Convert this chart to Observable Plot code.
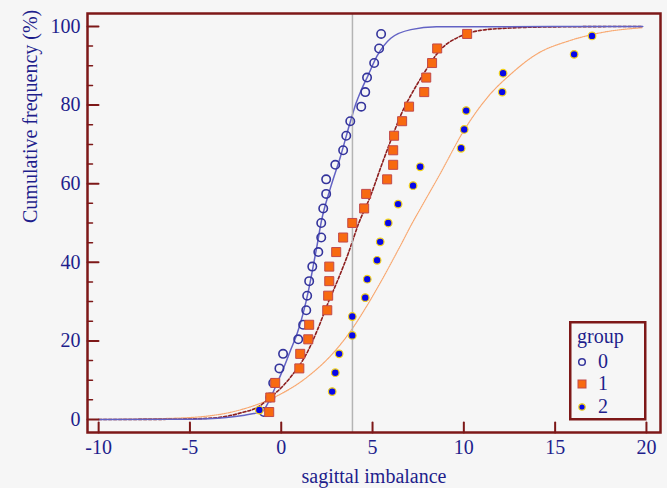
<!DOCTYPE html>
<html><head><meta charset="utf-8">
<script src="https://cdn.jsdelivr.net/npm/d3@7"></script>
<script src="https://cdn.jsdelivr.net/npm/@observablehq/plot@0.6"></script>
<style>
html,body{margin:0;padding:0;background:#f6f6f6;}
#wrap{position:relative;width:667px;height:488px;overflow:hidden;}
#legend{position:absolute;left:569px;top:321px;}
</style></head><body>
<div id="wrap"></div>
<script>
// ---- tick values & labels ----
const xTicks = [-10, -5, 0, 5, 10, 15, 20];
const yTicks = [0, 20, 40, 60, 80, 100];
const yMinorTicks = [5, 10, 15, 25, 30, 35, 45, 50, 55, 65, 70, 75, 85, 90, 95];
const xLabel = "sagittal imbalance";
const yLabel = "Cumulative frequency (%)";
const legendTitle = "group";
const groups = ["0", "1", "2"];
const refLineX = [3.9];

// ---- observed points (x = sagittal imbalance, y = cumulative %) ----
const freq27 = [1.9, 5.6, 9.3, 13.0, 16.7, 20.4, 24.1, 27.8, 31.5, 35.2, 38.9, 42.6, 46.3, 50.0,
  53.7, 57.4, 61.1, 64.8, 68.5, 72.2, 75.9, 79.6, 83.3, 87.0, 90.7, 94.4, 98.1];
const freq21 = [2.4, 7.1, 11.9, 16.7, 21.4, 26.2, 31.0, 35.7, 40.5, 45.2, 50.0, 54.8, 59.5, 64.3,
  69.0, 73.8, 78.6, 83.3, 88.1, 92.9, 97.6];
const group0X = [-0.95, -0.6, -0.44, -0.1, 0.1, 0.93, 1.2, 1.37, 1.42, 1.53, 1.7, 2.03, 2.19, 2.19,
  2.3, 2.46, 2.46, 2.96, 3.39, 3.56, 3.78, 4.38, 4.6, 4.7, 5.09, 5.36, 5.47];
const group1X = [-0.66, -0.6, -0.33, 0.99, 1.04, 1.48, 1.53, 2.52, 2.57, 2.63, 2.63, 3.01, 3.39, 3.89,
  4.54, 4.65, 5.8, 6.13, 6.13, 6.18, 6.62, 7.0, 7.83, 7.94, 8.26, 8.54, 10.18];
const group2X = [-1.2, 2.79, 2.96, 3.17, 3.89, 3.89, 4.6, 4.71, 5.25, 5.42, 5.86, 6.4, 7.22, 7.61,
  9.85, 10.02, 10.13, 12.1, 12.15, 16.04, 17.02];

// ---- fitted curves ----
const curve0X = [-10, -6, -4, -3, -2, -1.5, -1.0, -0.75, -0.25, 0.12, 0.5, 0.88, 1.2, 1.5, 1.75, 1.95,
  2.2, 2.7, 3.25, 3.8, 4.1, 4.4, 4.75, 5.25, 6.0, 7.1, 8.5, 19.8];
const curve0Y = [0, 0.05, 0.2, 0.5, 1.1, 1.5, 2.2, 4, 9, 13, 17.5, 22, 27, 33, 39, 44,
  50.5, 59, 67, 76, 80.5, 84, 87.5, 92.5, 97, 99.2, 99.9, 100];
const curve1X = [-10, -6, -4, -3, -2.2, -1.3, -0.6, 0.13, 0.5, 1.45, 2.0, 2.55, 3.1, 3.65, 4.25, 4.9,
  5.4, 6.0, 6.7, 7.1, 7.8, 8.7, 9.8, 10.9, 12.5, 15, 19.8];
const curve1Y = [0, 0.05, 0.3, 0.8, 1.7, 3.1, 5.6, 8.7, 10.7, 17.3, 23, 29.5, 35.5, 42, 50, 57,
  63.5, 71, 79, 82.5, 88, 94, 97.5, 99, 99.6, 99.9, 100];
const curve2X = [-10, -6, -4, -3, -2.2, -0.4, 1.45, 2.9, 3.8, 4.7, 5.45, 6.5, 7.2, 7.6, 8.7, 10.0,
  11.3, 12.6, 14.0, 15.8, 17.6, 19.8];
const curve2Y = [0.02, 0.3, 0.9, 1.6, 2.5, 5.6, 10.9, 17.2, 22.5, 29, 35, 44, 50.2, 53.5, 62.5, 73.5,
  82, 88, 93, 96.4, 98.5, 99.7];

// ---- styling ----
const font = "Liberation Serif, Times New Roman, serif";
const textColor = "#1e1e8c";
const frameColor = "#7d1818";
const bg = "#f6f6f6";
const c0 = "#34349c", line0 = "#6262c4";
const c1fill = "#f86a10", c1stroke = "#c24a4a", line1 = "#8c1e1e";
const c2fill = "#0808e8", c2stroke = "#f2d21a", line2 = "#f8a870";

const pts = (xs, ys) => xs.map((x, i) => ({x, y: ys[i]}));
const g0 = pts(group0X, freq27);
const g1 = pts(group1X, freq27);
const g2 = pts(group2X, freq21);
const k0 = pts(curve0X, curve0Y);
const k1 = pts(curve1X, curve1Y);
const k2 = pts(curve2X, curve2Y);

const tickShape = {draw(context, l) { context.moveTo(0, 0); context.lineTo(0, -l); }};

const chart = Plot.plot({
  width: 667,
  height: 488,
  marginLeft: 87,
  marginRight: 7,
  marginTop: 13,
  marginBottom: 56,
  style: {background: bg, fontFamily: font},
  x: {domain: [-10.61, 20.77], axis: null},
  y: {domain: [-3.31, 103.3], axis: null},
  marks: [
    Plot.line(k2, {x: "x", y: "y", stroke: line2, strokeWidth: 1.2, strokeDasharray: "1,1", curve: "monotone-x"}),
    Plot.line(k1, {x: "x", y: "y", stroke: line1, strokeWidth: 1.6, strokeDasharray: "3,2", curve: "monotone-x"}),
    Plot.line(k0, {x: "x", y: "y", stroke: line0, strokeWidth: 1.5, curve: "monotone-x"}),
    Plot.ruleX(refLineX, {stroke: "#b4b4b4", strokeWidth: 1.5}),
    Plot.dot(g0, {x: "x", y: "y", r: 4.2, stroke: c0, strokeWidth: 1.6, fill: "none"}),
    Plot.dot(g1, {x: "x", y: "y", r: 5.1, symbol: "square", fill: c1fill, stroke: c1stroke, strokeWidth: 1}),
    Plot.dot(g2, {x: "x", y: "y", r: 3.8, fill: c2fill, stroke: c2stroke, strokeWidth: 1.2}),
    Plot.vector(xTicks, {x: d => d, frameAnchor: "bottom", length: 10, rotate: 0, anchor: "start", shape: tickShape, stroke: frameColor, strokeWidth: 2}),
    Plot.vector(yTicks, {y: d => d, frameAnchor: "left", length: 11, rotate: 90, anchor: "start", shape: tickShape, stroke: frameColor, strokeWidth: 2}),
    Plot.vector(yMinorTicks, {y: d => d, frameAnchor: "left", length: 5, rotate: 90, anchor: "start", shape: tickShape, stroke: frameColor, strokeWidth: 1.5}),
    Plot.axisX(xTicks, {tickSize: 0, tickPadding: 7, fontSize: 20, fontFamily: font, fill: textColor, tickFormat: d => String(d), label: null}),
    Plot.axisY(yTicks, {tickSize: 0, tickPadding: 7, fontSize: 20, fontFamily: font, fill: textColor, tickFormat: d => String(d), label: null}),
    Plot.text([xLabel], {text: d => d, frameAnchor: "bottom", dy: 50, lineAnchor: "bottom", fontSize: 20, fontFamily: font, fill: textColor}),
    Plot.text([yLabel], {text: d => d, frameAnchor: "left", dx: -65, rotate: -90, lineAnchor: "top", fontSize: 20, fontFamily: font, fill: textColor}),
    Plot.frame({stroke: frameColor, strokeWidth: 2.5})
  ]
});
const wrap = document.getElementById("wrap");
wrap.appendChild(chart);

// ---- legend (inside the plot area) ----
const lg = d3.select(wrap).append("svg").attr("id", "legend").attr("width", 78).attr("height", 100)
  .style("font-family", font).style("font-size", "20px");
lg.append("rect").attr("x", 1.25).attr("y", 1.25).attr("width", 75).attr("height", 97)
  .attr("fill", bg).attr("stroke", frameColor).attr("stroke-width", 2.5);
lg.append("text").attr("x", 8).attr("y", 22).attr("fill", textColor).text(legendTitle);
const rowY = [41, 63, 86];
groups.forEach((g, i) => {
  const cy = rowY[i];
  if (i === 0) lg.append("circle").attr("cx", 13).attr("cy", cy).attr("r", 3.3).attr("fill", "none").attr("stroke", c0).attr("stroke-width", 1.5);
  if (i === 1) lg.append("rect").attr("x", 9).attr("y", cy - 4).attr("width", 8).attr("height", 8).attr("fill", c1fill).attr("stroke", c1stroke).attr("stroke-width", 1);
  if (i === 2) lg.append("circle").attr("cx", 13).attr("cy", cy).attr("r", 3.2).attr("fill", c2fill).attr("stroke", c2stroke).attr("stroke-width", 1.2);
  lg.append("text").attr("x", 29).attr("y", cy + 5.5).attr("fill", textColor).text(g);
});
</script>
</body></html>
